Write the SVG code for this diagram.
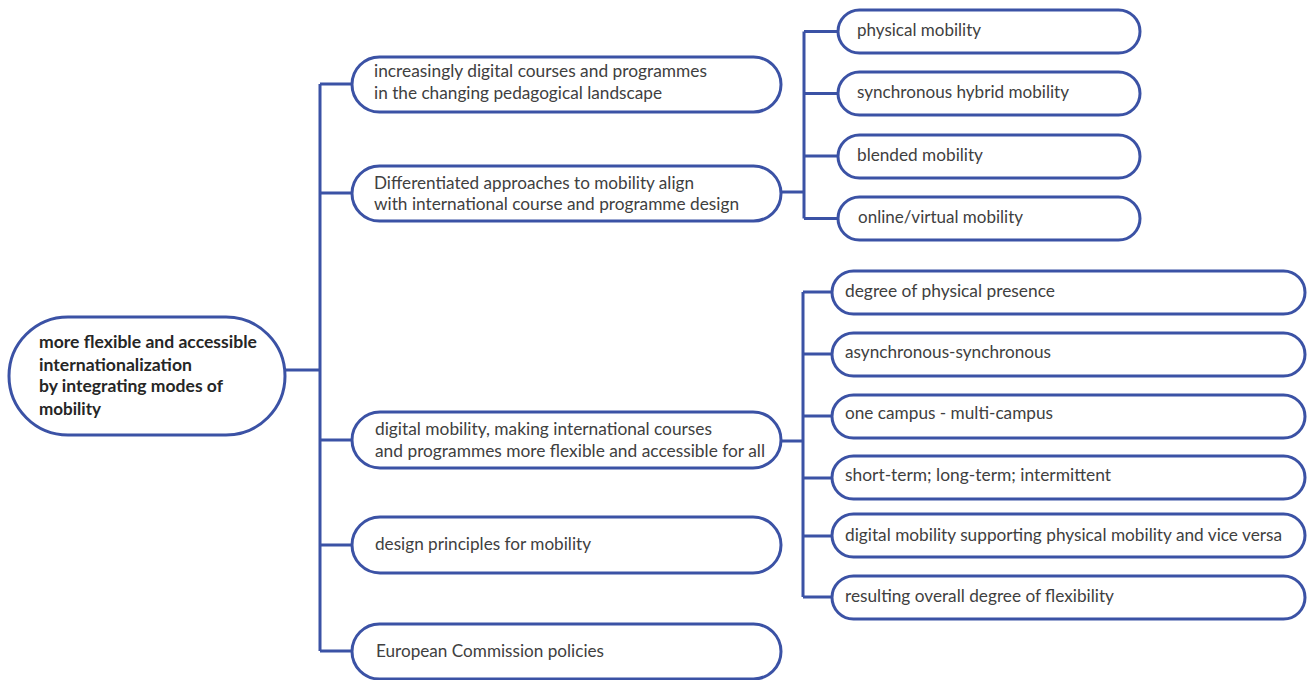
<svg xmlns="http://www.w3.org/2000/svg" width="1309" height="680" viewBox="0 0 1309 680">
<style>
.n{fill:#fff;stroke:#3b52a5;stroke-width:3}
.c{fill:none;stroke:#3b52a5;stroke-width:3;stroke-linejoin:round}
.t{font-family:Lato,"Liberation Sans",sans-serif;font-size:17px;fill:#404040}
.b{font-family:Lato,"Liberation Sans",sans-serif;font-size:17px;font-weight:bold;fill:#262626}
</style>
<rect width="1309" height="680" fill="#fff"/>
<g id="connectors">
<path class="c" d="M285 370H320M320 84V651M320 84H352M320 193H352M320 440H352M320 545H352M320 651H352"/>
<path class="c" d="M781 192H804M804 31.5V218.5M804 31.5H838M804 93.5H838M804 156H838M804 218.5H838"/>
<path class="c" d="M781 441H803M803 292V597M803 292H832M803 354H832M803 416H832M803 478H832M803 536H832M803 597H832"/>
</g>
<g id="root">
<rect class="n" x="9" y="317" width="276" height="118" rx="59"/>
<text class="b" x="39" y="347.5" textLength="218" lengthAdjust="spacingAndGlyphs">more flexible and accessible</text>
<text class="b" x="39" y="370.5" textLength="153" lengthAdjust="spacingAndGlyphs">internationalization</text>
<text class="b" x="39" y="392" textLength="184" lengthAdjust="spacingAndGlyphs">by integrating modes of</text>
<text class="b" x="39" y="415" textLength="62" lengthAdjust="spacingAndGlyphs">mobility</text>
</g>
<g id="n1">
<rect class="n" x="352" y="57" width="429" height="55" rx="27.5"/>
<text class="t" x="374" y="77" textLength="333" lengthAdjust="spacingAndGlyphs">increasingly digital courses and programmes</text>
<text class="t" x="374" y="98.5" textLength="288" lengthAdjust="spacingAndGlyphs">in the changing pedagogical landscape</text>
</g>
<g id="n2">
<rect class="n" x="352" y="166" width="429" height="55" rx="27.5"/>
<text class="t" x="374" y="188.5" textLength="320" lengthAdjust="spacingAndGlyphs">Differentiated approaches to mobility align</text>
<text class="t" x="374" y="210" textLength="365" lengthAdjust="spacingAndGlyphs">with international course and programme design</text>
</g>
<g id="n3">
<rect class="n" x="352" y="412" width="429" height="56" rx="28"/>
<text class="t" x="375" y="435" textLength="337" lengthAdjust="spacingAndGlyphs">digital mobility, making international courses</text>
<text class="t" x="375" y="457" textLength="390" lengthAdjust="spacingAndGlyphs">and programmes more flexible and accessible for all</text>
</g>
<g id="n4">
<rect class="n" x="352" y="517" width="429" height="56" rx="28"/>
<text class="t" x="375" y="550" textLength="216" lengthAdjust="spacingAndGlyphs">design principles for mobility</text>
</g>
<g id="n5">
<rect class="n" x="352" y="624" width="429" height="55" rx="27.5"/>
<text class="t" x="376" y="657" textLength="228" lengthAdjust="spacingAndGlyphs">European Commission policies</text>
</g>
<g id="m1">
<rect class="n" x="838" y="10" width="302" height="43" rx="21.5"/>
<text class="t" x="857" y="36" textLength="124" lengthAdjust="spacingAndGlyphs">physical mobility</text>
</g>
<g id="m2">
<rect class="n" x="838" y="72" width="302" height="43" rx="21.5"/>
<text class="t" x="857" y="98" textLength="212" lengthAdjust="spacingAndGlyphs">synchronous hybrid mobility</text>
</g>
<g id="m3">
<rect class="n" x="838" y="135" width="302" height="43" rx="21.5"/>
<text class="t" x="857" y="161" textLength="126" lengthAdjust="spacingAndGlyphs">blended mobility</text>
</g>
<g id="m4">
<rect class="n" x="838" y="197" width="302" height="43" rx="21.5"/>
<text class="t" x="858" y="223" textLength="165" lengthAdjust="spacingAndGlyphs">online/virtual mobility</text>
</g>
<g id="d1">
<rect class="n" x="832" y="271" width="473" height="43" rx="21.5"/>
<text class="t" x="845" y="297" textLength="210" lengthAdjust="spacingAndGlyphs">degree of physical presence</text>
</g>
<g id="d2">
<rect class="n" x="832" y="333" width="473" height="43" rx="21.5"/>
<text class="t" x="845" y="358" textLength="206" lengthAdjust="spacingAndGlyphs">asynchronous-synchronous</text>
</g>
<g id="d3">
<rect class="n" x="832" y="395" width="473" height="43" rx="21.5"/>
<text class="t" x="845" y="419" textLength="208" lengthAdjust="spacingAndGlyphs">one campus - multi-campus</text>
</g>
<g id="d4">
<rect class="n" x="832" y="456" width="473" height="43" rx="21.5"/>
<text class="t" x="845" y="481" textLength="266" lengthAdjust="spacingAndGlyphs">short-term; long-term; intermittent</text>
</g>
<g id="d5">
<rect class="n" x="832" y="514" width="473" height="43" rx="21.5"/>
<text class="t" x="845" y="541" textLength="437" lengthAdjust="spacingAndGlyphs">digital mobility supporting physical mobility and vice versa</text>
</g>
<g id="d6">
<rect class="n" x="832" y="576" width="473" height="43" rx="21.5"/>
<text class="t" x="845" y="602" textLength="269" lengthAdjust="spacingAndGlyphs">resulting overall degree of flexibility</text>
</g>
</svg>
